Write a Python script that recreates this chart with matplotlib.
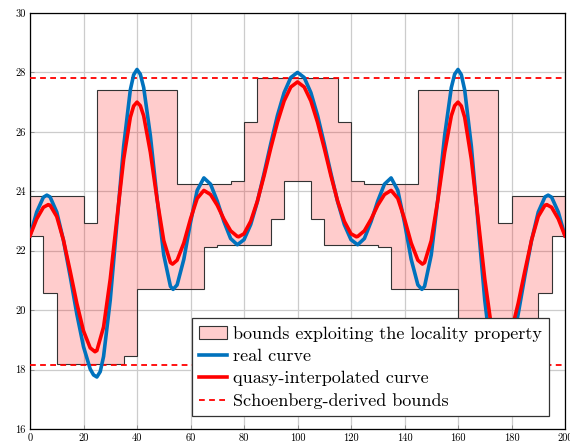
import matplotlib
matplotlib.use("Agg")
import matplotlib.pyplot as plt
from matplotlib.patches import Patch
from matplotlib.lines import Line2D

# ---------------- data ----------------
upper_edges = [0, 20, 25, 55, 75, 80, 85, 115, 120, 125, 145, 175, 180, 200]
upper_vals = [23.85, 22.93, 27.41, 24.26, 24.34, 26.34, 27.82, 26.34, 24.34, 24.26, 27.41, 22.93, 23.85]

lower_edges = [0, 5, 10, 35, 40, 65, 70, 90, 95, 105, 110, 130, 135, 160, 165, 190, 195, 200]
lower_vals = [22.5, 20.58, 18.18, 18.47, 20.7, 22.13, 22.19, 23.06, 24.34, 23.06, 22.19, 22.13, 20.7, 18.47, 18.18, 20.58, 22.5]

real_x = [0, 2.5, 5, 6.3, 7.5, 10, 12.5, 15, 17.5, 20, 22.5, 23.75, 25, 26.25, 27.5, 30, 32.5, 35, 37.5, 38.75,
          40, 41.25, 42.5, 45, 47.5, 50, 52.5, 53.5, 55, 57.5, 60, 62.5, 65, 67.5, 70, 72.5, 75, 77.5, 80,
          82.5, 85, 87.5, 90, 92.5, 95, 97.5, 100,
          102.5, 105, 107.5, 110, 112.5, 115, 117.5, 120, 122.5, 125, 127.5, 130, 132.5, 135, 137.5, 140,
          142.5, 145, 146.5, 147.5, 150, 152.5, 155, 157.5, 158.75, 160, 161.25, 162.5, 165, 167.5, 170,
          172.5, 173.75, 175, 176.25, 177.5, 180, 182.5, 185, 187.5, 190, 192.5, 193.7, 195, 197.5, 200]
real_y = [22.5, 23.30, 23.80, 23.87, 23.81, 23.30, 22.35, 21.15, 19.87, 18.77, 18.02, 17.82, 17.75, 17.93, 18.44,
          20.34, 22.93, 25.51, 27.41, 27.92, 28.1, 27.94, 27.49, 25.87, 23.76, 21.86, 20.80, 20.7, 20.85,
          21.71, 22.95, 24.03, 24.45, 24.24, 23.67, 22.98, 22.41, 22.2, 22.37, 22.88, 23.65, 24.60, 25.60,
          26.55, 27.32, 27.83, 28.0,
          27.83, 27.32, 26.55, 25.60, 24.60, 23.65, 22.88, 22.37, 22.2, 22.41, 22.98, 23.67, 24.24, 24.45,
          24.03, 22.95, 21.71, 20.85, 20.7, 20.80, 21.86, 23.76, 25.87, 27.49, 27.94, 28.1, 27.92, 27.41,
          25.51, 22.93, 20.34, 18.44, 17.93, 17.75, 17.82, 18.02, 18.77, 19.87, 21.15, 22.35, 23.30, 23.81,
          23.87, 23.80, 23.30, 22.5]

quasi_x = [0, 2.5, 5, 6.8, 7.5, 10, 12.5, 15, 17.5, 20, 22.5, 24.3, 25, 27.5, 30, 32.5, 35, 37.5, 38.75, 40,
           41.25, 42.5, 45, 47.5, 50, 52.5, 53.3, 55, 57.5, 60, 62.5, 65, 67.5, 70, 72.5, 75, 77.5, 78, 80,
           82.5, 85, 87.5, 90, 92.5, 95, 97.5, 100,
           102.5, 105, 107.5, 110, 112.5, 115, 117.5, 120, 122, 122.5, 125, 127.5, 130, 132.5, 135, 137.5,
           140, 142.5, 145, 146.7, 147.5, 150, 152.5, 155, 157.5, 158.75, 160, 161.25, 162.5, 165, 167.5,
           170, 172.5, 175, 175.7, 177.5, 180, 182.5, 185, 187.5, 190, 192.5, 193.2, 195, 197.5, 200]
quasi_y = [22.5, 23.07, 23.46, 23.55, 23.53, 23.15, 22.36, 21.32, 20.23, 19.30, 18.73, 18.6, 18.64, 19.43,
           21.05, 23.09, 25.07, 26.49, 26.87, 27.0, 26.88, 26.54, 25.31, 23.73, 22.34, 21.60, 21.55, 21.68,
           22.26, 23.07, 23.76, 24.03, 23.89, 23.53, 23.06, 22.67, 22.48, 22.47, 22.57, 22.99, 23.67, 24.52,
           25.45, 26.32, 27.04, 27.51, 27.68,
           27.51, 27.04, 26.32, 25.45, 24.52, 23.67, 22.99, 22.57, 22.47, 22.48, 22.67, 23.06, 23.53, 23.89,
           24.03, 23.76, 23.07, 22.26, 21.68, 21.55, 21.60, 22.34, 23.73, 25.31, 26.54, 26.88, 27.0, 26.87,
           26.49, 25.07, 23.09, 21.05, 19.43, 18.64, 18.6, 18.73, 19.30, 20.23, 21.32, 22.36, 23.15, 23.53,
           23.55, 23.46, 23.07, 22.5]

schoenberg_upper = 27.82
schoenberg_lower = 18.17

xticks = [0, 20, 40, 60, 80, 100, 120, 140, 160, 180, 200]
yticks = [16, 18, 20, 22, 24, 26, 28, 30]

labels = ["bounds exploiting the locality property", "real curve",
          "quasy-interpolated curve", "Schoenberg-derived bounds"]

# ---------------- style ----------------
plt.rcParams['font.family'] = ['cmr10', 'DejaVu Serif']
plt.rcParams['axes.unicode_minus'] = False
plt.rcParams['mathtext.fontset'] = 'cm'

BLUE = '#0072BD'
RED = '#FF0000'
PINK = (1.0, 0.0, 0.0, 0.2)

fig = plt.figure(figsize=(5.7, 4.43), dpi=100)
ax = fig.add_axes([30/570, 1 - 429/443, 535/570, 416/443])

# merge the two step functions onto common edges for the fill
all_edges = sorted(set(upper_edges) | set(lower_edges))

def step_value(edges, vals, x):
    for i in range(len(vals)):
        if edges[i] <= x < edges[i + 1]:
            return vals[i]
    return vals[-1]

up_m = [step_value(upper_edges, upper_vals, e) for e in all_edges[:-1]]
lo_m = [step_value(lower_edges, lower_vals, e) for e in all_edges[:-1]]

ax.stairs(up_m, all_edges, baseline=lo_m, fill=True, color=PINK, linewidth=0, zorder=2)
ax.stairs(upper_vals, upper_edges, baseline=None, color='#333333', linewidth=0.8, zorder=3)
ax.stairs(lower_vals, lower_edges, baseline=None, color='#333333', linewidth=0.8, zorder=3)

ax.axhline(schoenberg_upper, color=RED, linestyle=(0, (3.2, 2.4)), linewidth=1.3, zorder=4)
ax.axhline(schoenberg_lower, color=RED, linestyle=(0, (3.2, 2.4)), linewidth=1.3, zorder=4)

ax.plot(real_x, real_y, color=BLUE, linewidth=2.6, solid_joinstyle='round', zorder=5)
ax.plot(quasi_x, quasi_y, color=RED, linewidth=2.6, solid_joinstyle='round', zorder=6)

ax.set_xlim(0, 200)
ax.set_ylim(16, 30)
ax.set_xticks(xticks)
ax.set_yticks(yticks)
ax.set_xticklabels([str(t) for t in xticks])
ax.set_yticklabels([str(t) for t in yticks])
ax.grid(True, color='#cccccc', linewidth=0.9, zorder=1)
ax.set_axisbelow(True)
ax.tick_params(direction='in', length=3, width=0.6, color='#888888', labelsize=7.5, pad=3,
               top=False, right=False)
for s in ax.spines.values():
    s.set_linewidth(0.9)
    s.set_color('black')

handles = [Patch(facecolor=PINK, edgecolor='#333333', linewidth=0.8),
           Line2D([], [], color=BLUE, linewidth=2.6),
           Line2D([], [], color=RED, linewidth=2.6),
           Line2D([], [], color=RED, linewidth=1.3, linestyle=(0, (3.2, 2.4)))]
leg = ax.legend(handles, labels, loc='lower right', bbox_to_anchor=(0.970, 0.031),
                fontsize=13, frameon=True, fancybox=False, framealpha=1,
                edgecolor='#333333', handlelength=1.55, handletextpad=0.3,
                borderpad=0.4, labelspacing=0.37, borderaxespad=0)
leg.get_frame().set_linewidth(0.9)
leg.set_zorder(10)

fig.savefig('out.png', dpi=100)
